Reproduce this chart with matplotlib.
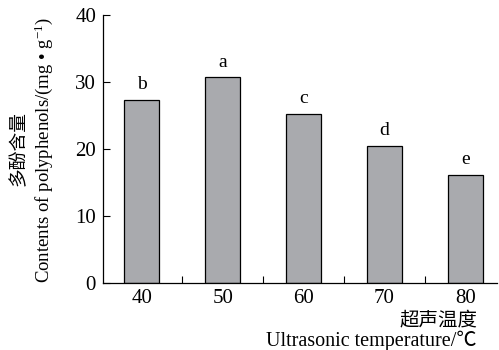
import matplotlib
matplotlib.use("Agg")
import matplotlib.pyplot as plt
from matplotlib.ticker import FixedLocator

# data
temps = ["40", "50", "60", "70", "80"]
polyphenols = [27.3, 30.7, 25.2, 20.5, 16.1]
letters = ["b", "a", "c", "d", "e"]
yticks = [0, 10, 20, 30, 40]

serif = ["Liberation Serif", "Noto Sans CJK SC"]
cjk = ["Noto Sans CJK SC", "Liberation Serif"]
plt.rcParams["font.family"] = serif
plt.rcParams["mathtext.fontset"] = "custom"
plt.rcParams["mathtext.rm"] = "Liberation Serif"
plt.rcParams["mathtext.it"] = "Liberation Serif"

fig = plt.figure(figsize=(4.99, 3.5), dpi=100)
ax = fig.add_axes([103 / 499, 67 / 350, 394 / 499, 268 / 350])

x = list(range(len(temps)))
ax.bar(x, polyphenols, width=0.43, color="#a9aaae", edgecolor="black", linewidth=0.9)
for xi, v, lab in zip(x, polyphenols, letters):
    ax.text(xi, v + 1.0, lab, ha="center", va="bottom", fontsize=14)

ax.set_xlim(-0.48, 4.39)
ax.set_ylim(0, 40)
ax.set_xticks(x)
ax.set_xticklabels(temps, fontsize=15)
ax.xaxis.set_minor_locator(FixedLocator([0.5, 1.5, 2.5, 3.5]))
ax.tick_params(axis="x", which="major", length=0, pad=4)
ax.tick_params(axis="x", which="minor", direction="in", length=5, width=0.8)
ax.set_yticks(yticks)
ax.tick_params(axis="y", direction="in", length=5, width=0.8, labelsize=15, pad=5)
for s in ["top", "right"]:
    ax.spines[s].set_visible(False)
for s in ["left", "bottom"]:
    ax.spines[s].set_linewidth(0.9)

# axis titles
fig.text(18 / 499, 1 - 148 / 350, "多酚含量", rotation=90, ha="center", va="center",
         fontsize=13.5, family=cjk)
fig.text(44 / 499, 1 - 150 / 350, "Contents of polyphenols/(mg • g$^{-1}$)", rotation=90,
         ha="center", va="center", fontsize=13.5)
fig.text(477 / 499, 1 - 320 / 350, "超声温度", ha="right", va="center", fontsize=14,
         family=cjk)
fig.text(477 / 499, 1 - 341 / 350, "Ultrasonic temperature/℃", ha="right", va="center",
         fontsize=14.5, family=serif)

fig.savefig("out.png", dpi=100)
